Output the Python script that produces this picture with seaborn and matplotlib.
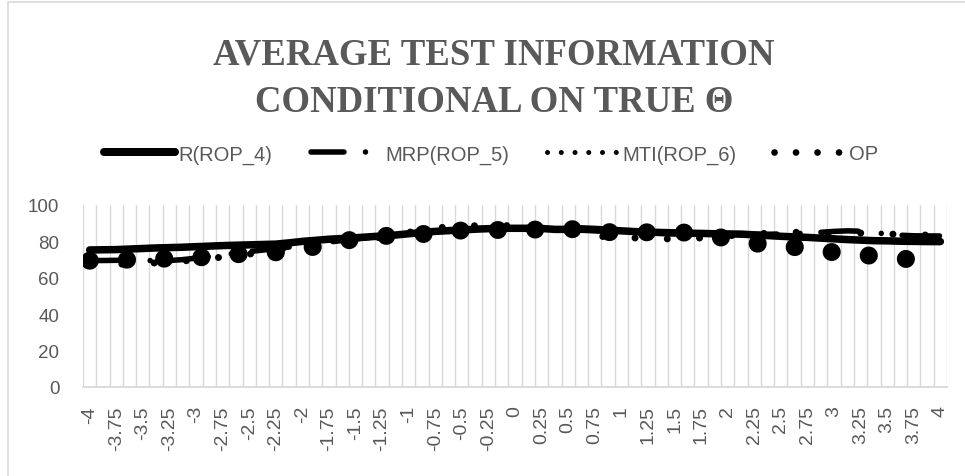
import matplotlib
matplotlib.use("Agg")
import matplotlib.pyplot as plt
import seaborn as sns
import pandas as pd
from matplotlib.lines import Line2D
from matplotlib.patches import Rectangle

# ---------------- data ----------------
theta = [-4.0, -3.875, -3.75, -3.625, -3.5, -3.375, -3.25, -3.125,
         -3.0, -2.875, -2.75, -2.625, -2.5, -2.375, -2.25, -2.125,
         -2.0, -1.875, -1.75, -1.625, -1.5, -1.375, -1.25, -1.125,
         -1.0, -0.875, -0.75, -0.625, -0.5, -0.375, -0.25, -0.125,
         0.0, 0.125, 0.25, 0.375, 0.5, 0.625, 0.75, 0.875,
         1.0, 1.125, 1.25, 1.375, 1.5, 1.625, 1.75, 1.875,
         2.0, 2.125, 2.25, 2.375, 2.5, 2.625, 2.75, 2.875,
         3.0, 3.125, 3.25, 3.375, 3.5, 3.625, 3.75, 3.875, 4.0]

r_rop4 = [75.3, 75.4, 75.5, 75.8, 76.1, 76.4, 76.6, 76.8,
          77.1, 77.4, 77.7, 77.9, 78.1, 78.3, 78.5, 79.2,
          80.0, 80.6, 81.2, 81.6, 82.0, 82.5, 83.0, 83.5,
          84.2, 84.9, 85.5, 85.9, 86.3, 86.7, 87.0, 87.2,
          87.2, 87.2, 87.1, 86.6, 86.6, 86.9, 86.6, 86.2,
          85.8, 85.4, 85.1, 84.9, 84.7, 84.5, 84.4, 84.2,
          84.1, 84.0, 83.6, 83.2, 82.8, 82.5, 82.2, 81.8,
          81.4, 81.0, 80.7, 80.4, 80.3, 80.1, 80.0, 79.9, 79.9]

mrp_rop5 = [69.5, 69.5, 69.6, 69.7, 69.6, 69.4, 69.5, 70.0,
            70.8, 71.7, 72.6, 73.5, 74.4, 75.2, 76.0, 76.9,
            77.8, 78.7, 79.6, 80.5, 81.3, 82.1, 82.9, 83.6,
            84.3, 84.9, 85.5, 86.0, 86.4, 86.7, 86.9, 87.0,
            87.0, 86.9, 86.8, 86.6, 86.4, 86.1, 85.8, 85.5,
            85.2, 84.9, 84.6, 84.4, 84.2, 84.0, 83.9, 83.8,
            83.7, 83.7, 83.8, 83.9, 84.1, 84.3, 84.6, 85.0,
            85.5, 85.8, 85.6, 84.9, 84.0, 83.4, 83.1, 83.0, 83.0]

mti_rop6 = [66.8, 67.1, 67.4, 67.7, 67.9, 68.2, 68.7, 69.2,
            69.9, 70.6, 71.4, 72.2, 73.0, 74.0, 75.1, 76.4,
            77.5, 78.2, 78.9, 79.6, 80.4, 81.3, 82.4, 83.6,
            85.0, 86.2, 87.3, 88.0, 88.3, 88.6, 88.7, 88.7,
            88.6, 88.2, 87.6, 86.7, 85.5, 84.1, 83.0, 82.5,
            82.2, 81.9, 81.6, 81.4, 81.4, 81.6, 81.9, 82.4,
            83.0, 83.6, 84.1, 84.5, 84.8, 85.0, 85.0, 84.9,
            84.8, 84.7, 84.6, 84.4, 84.1, 83.8, 83.6, 83.5, 83.4]

op = [69.4, 69.6, 69.8, 70.0, 70.2, 70.4, 70.6, 70.9,
      71.1, 71.6, 72.2, 72.9, 73.3, 73.6, 74.0, 75.0,
      76.0, 77.2, 78.6, 80.0, 81.3, 82.2, 82.9, 83.3,
      83.6, 84.0, 84.7, 85.4, 86.0, 86.1, 86.2, 86.3,
      86.4, 86.5, 86.5, 86.6, 86.8, 86.5, 85.8, 85.1,
      85.0, 85.0, 85.0, 85.0, 85.0, 84.8, 83.8, 82.7,
      81.6, 80.3, 79.0, 78.1, 77.5, 76.9, 76.0, 74.9,
      74.0, 73.3, 72.6, 72.0, 71.3, 70.6, 70.0, 69.5, 69.0]

series_names = ["R(ROP_4)", "MRP(ROP_5)", "MTI(ROP_6)", "OP"]

x_tick_labels = ["-4", "-3.75", "-3.5", "-3.25", "-3", "-2.75", "-2.5", "-2.25",
                 "-2", "-1.75", "-1.5", "-1.25", "-1", "-0.75", "-0.5", "-0.25",
                 "0", "0.25", "0.5", "0.75", "1", "1.25", "1.5", "1.75",
                 "2", "2.25", "2.5", "2.75", "3", "3.25", "3.5", "3.75", "4"]
y_ticks = [0, 20, 40, 60, 80, 100]

title = "AVERAGE TEST INFORMATION\nCONDITIONAL ON TRUE \u0398"

# ---------------- styling ----------------
sns.set_theme(style="white")
plt.rcParams["font.family"] = ["Liberation Sans", "DejaVu Sans"]
GRAY = "#595959"
GRID = "#d9d9d9"
W, H = 965, 477
fig = plt.figure(figsize=(W / 100, H / 100), dpi=100)
fig.patch.set_facecolor("white")
ax = fig.add_axes([83 / W, 89 / H, 864 / W, 182 / H])
ax.set_facecolor("white")

df = pd.DataFrame({"theta": theta, "R": r_rop4, "MRP": mrp_rop5,
                   "MTI": mti_rop6, "OP": op})

px = 0.72  # points per pixel
styles = {
    "R": dict(lw=7.5 * px, linestyle="-", solid_capstyle="round"),
    "MRP": dict(lw=5.5 * px, linestyle=(0, (6.8, 4.2, 0.01, 3.8)),
                dash_capstyle="round"),
    "MTI": dict(lw=7 * px, linestyle=(0, (0.01, 4.6)), dash_capstyle="round"),
    "OP": dict(lw=18 * px, linestyle=(0, (0.01, 2.06)), dash_capstyle="round"),
}
for key in ["R", "MRP", "MTI", "OP"]:
    sns.lineplot(data=df, x="theta", y=key, ax=ax, color="black",
                 legend=False, solid_joinstyle="round", **styles[key])

# axes
half = 0.0625
ax.set_xlim(theta[0] - half, theta[-1] + half)
ax.set_ylim(0, 100)
ax.set_xticks([float(t) for t in x_tick_labels])
ax.set_xticklabels(x_tick_labels, rotation=90, color=GRAY, fontsize=14)
bounds = [t - half for t in theta] + [theta[-1] + half]
ax.set_xticks(bounds, minor=True)
ax.set_yticks(y_ticks)
ax.set_yticklabels([str(v) for v in y_ticks], color=GRAY, fontsize=13.5)
ax.tick_params(axis="x", which="both", length=0, pad=13)
ax.tick_params(axis="y", length=0, pad=17)
ax.grid(False)
ax.grid(which="minor", axis="x", color=GRID, lw=1.0)
ax.set_axisbelow(True)
for s in ["left", "top", "right"]:
    ax.spines[s].set_visible(False)
ax.spines["bottom"].set_color(GRID)
ax.spines["bottom"].set_linewidth(1.3)
ax.set_xlabel("")
ax.set_ylabel("")

# title
fig.text(494 / W, 1 - 79 / H, title, ha="center", va="center",
         family=["Liberation Serif", "DejaVu Serif"], fontweight="bold",
         fontsize=26.5, color=GRAY, linespacing=1.45)

# legend (proxy handles in the Excel legend sizes)
handles = [
    Line2D([], [], color="black", lw=8 * px, solid_capstyle="round"),
    Line2D([], [], color="black", lw=5.5 * px,
           linestyle=(0, (6.0, 3.9, 0.01, 4.0)), dash_capstyle="round"),
    Line2D([], [], color="black", lw=5 * px, linestyle=(0, (0.01, 2.74)),
           dash_capstyle="round"),
    Line2D([], [], color="black", lw=6.7 * px, linestyle=(0, (0.01, 3.2)),
           dash_capstyle="round"),
]
leg = fig.legend(handles, series_names, loc="center", ncol=4,
                 bbox_to_anchor=(491 / W, 1 - 155 / H), frameon=False,
                 fontsize=14.5, handlelength=3.5, handletextpad=0.2,
                 columnspacing=1.9)
for t in leg.get_texts():
    t.set_color(GRAY)

# chart frame
fig.patches.append(Rectangle((8 / W, -0.1), 1.2, 1.1 - 3 / H,
                             transform=fig.transFigure, fill=False,
                             edgecolor=GRID, lw=1.2))

fig.savefig("out.png", dpi=100, facecolor="white")
